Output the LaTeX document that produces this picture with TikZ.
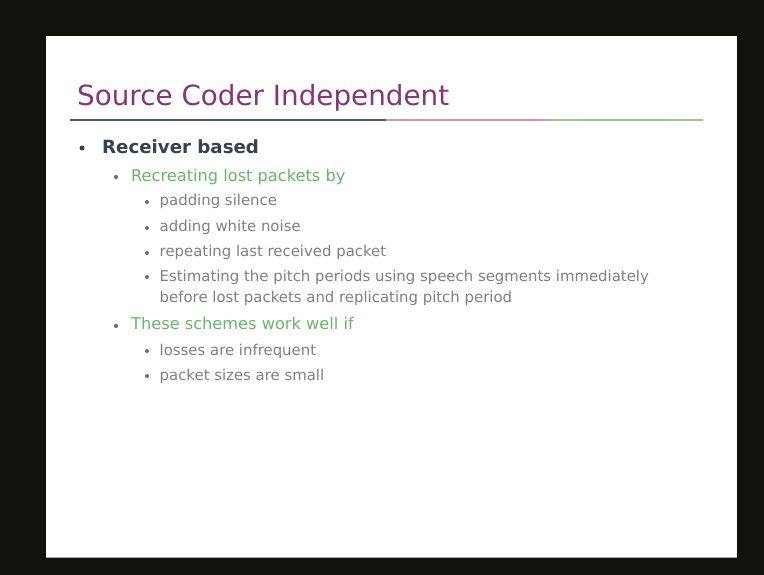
\documentclass[tikz,border=0pt]{standalone}
\usepackage{fontspec}
\setmainfont{DejaVu Sans}
\definecolor{screenblack}{RGB}{16,18,14}
\definecolor{titlepurple}{RGB}{134,52,124}
\definecolor{levelonecol}{RGB}{58,64,78}
\definecolor{leveltwocol}{RGB}{100,184,104}
\definecolor{levelthreecol}{RGB}{128,128,128}
\definecolor{ruleslate}{RGB}{82,88,104}
\definecolor{rulepink}{RGB}{205,150,172}
\definecolor{rulegreen}{RGB}{150,200,140}
\tikzset{
  slidetitle/.style={anchor=base west, inner sep=0pt, text=titlepurple,
    font=\fontsize{27.8}{30}\selectfont},
  itemone/.style={anchor=base west, inner sep=0pt, text=levelonecol,
    font=\fontsize{18.2}{20}\selectfont\bfseries},
  itemtwo/.style={anchor=base west, inner sep=0pt, text=leveltwocol,
    font=\fontsize{16.2}{18}\selectfont},
  itemthree/.style={anchor=base west, inner sep=0pt, text=levelthreecol,
    font=\fontsize{14.9}{17}\selectfont},
  dotone/.style={circle, fill=levelonecol, inner sep=0pt, minimum size=5pt},
  dottwo/.style={circle, fill=levelonecol!75, inner sep=0pt, minimum size=4.2pt},
  dotthree/.style={circle, fill=levelthreecol!85!black, inner sep=0pt, minimum size=4pt},
  rulepart/.style={line width=2pt}
}
\begin{document}
\begin{tikzpicture}[x=1pt,y=-1pt]
  % screen and slide
  \fill[screenblack] (0,0) rectangle (764,575);
  \useasboundingbox (0,0) rectangle (764,575);
  \fill[white] (46,36) rectangle (737,557);
  \draw[gray!70, line width=1pt] (46,557.5) -- (737,557.5);

  % title and rule
  \node[slidetitle] (title) at (77,106) {Source Coder Independent};
  \draw[rulepart, ruleslate] (70,120) -- (386,120);
  \draw[rulepart, rulepink] (386,120) -- (547,120);
  \draw[rulepart, rulegreen] (547,120) -- (703,120);

  % level one
  \node[dotone] (b1) at (82,148) {};
  \node[itemone] (recv) at (102,154) {Receiver based};

  % level two: recreating
  \node[dottwo] (b2) at (116,177) {};
  \node[itemtwo] (recr) at (131,181.5) {Recreating lost packets by};

  % level three items
  \node[dotthree] (b3) at (147,202) {};
  \node[itemthree] (pad) at (159.5,206) {padding silence};
  \node[dotthree] (b4) at (147,228) {};
  \node[itemthree] (noise) at (159.5,232) {adding white noise};
  \node[dotthree] (b5) at (147,253) {};
  \node[itemthree] (rep) at (159.5,257) {repeating last received packet};
  \node[dotthree] (b6) at (147,277) {};
  \node[itemthree] (est) at (159.5,281) {Estimating the pitch periods using speech segments immediately};
  \node[itemthree] (est2) at (159.5,302) {before lost packets and replicating pitch period};

  % level two: conditions
  \node[dottwo] (b7) at (116,326) {};
  \node[itemtwo] (works) at (131,329.5) {These schemes work well if};
  \node[dotthree] (b8) at (147,351) {};
  \node[itemthree] (loss) at (159.5,355) {losses are infrequent};
  \node[dotthree] (b9) at (147,376) {};
  \node[itemthree] (size) at (159.5,380) {packet sizes are small};
\end{tikzpicture}
\end{document}
